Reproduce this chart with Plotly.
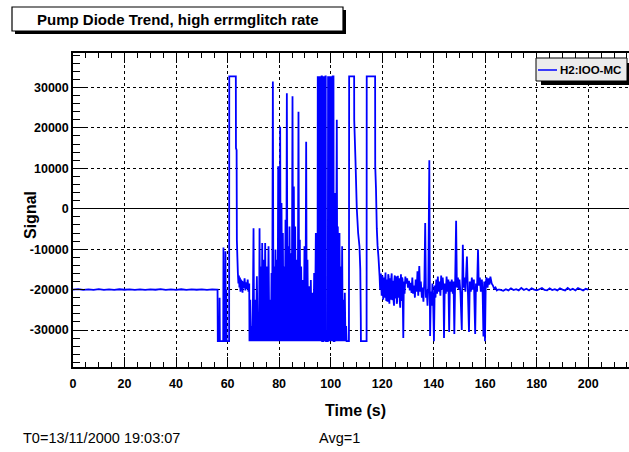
import plotly.graph_objects as go

# ---------------- data ----------------
pre_event = [
    (0, -20000), (2, -19900), (4, -20080), (6, -19950), (8, -20050), (10, -19900),
    (12, -20060), (14, -19950), (16, -20050), (18, -19920), (20, -20040), (22, -19950),
    (24, -20070), (26, -19930), (28, -20050), (30, -19950), (32, -20040), (34, -19900),
    (36, -20060), (38, -19950), (40, -20050), (42, -19920), (44, -20060), (46, -19950),
    (48, -20040), (50, -19930), (52, -20050), (54, -19950), (56.0, -20000),
]

burst = [
    (56.1, -20000), (56.2, -32768), (56.8, -32768), (56.9, -22000), (57.0, -32768),
    (58.3, -32768), (58.4, -9600), (58.6, -32768), (59.0, -32768), (59.2, -10500),
    (59.3, -32768), (59.5, -20000), (59.6, -32768), (60.6, -32768), (60.65, 32767),
    (63.2, 32767), (63.25, 15000), (63.5, 14500), (63.6, -7700), (63.8, -12000),
    (64.0, -16000), (64.2, -18500), (64.4, -16500), (64.6, -19500), (64.8, -17000),
    (65.0, -20500), (65.2, -17500), (65.4, -19000), (65.6, -17800), (65.8, -20800),
    (66.0, -18000), (66.3, -19600), (66.6, -17200), (66.9, -20200), (67.2, -18200),
    (67.5, -19800), (67.8, -17500), (68.1, -20500), (68.4, -18500), (68.5, -32768),
    (68.8, -22500), (69.1, -32768), (69.4, -29000), (69.7, -32768), (70.07, -4800),
    (70.3, -32768), (70.7, -22500), (71.0, -32768), (71.36, -16700), (71.7, -32768),
    (72.0, -29000), (72.2, -32768), (72.4, -4800), (72.65, -32768), (72.9, -14300),
    (73.2, -32768), (73.43, -8500), (73.7, -32768), (73.95, -12600), (74.3, -32768),
    (74.59, -8500), (74.9, -32768), (75.24, -14300), (75.55, -32768), (75.89, -9300),
    (76.2, -32768), (76.53, -22500), (76.8, -32768), (77.05, -15900), (77.3, -32768),
    (77.57, 31500), (77.8, -32768), (78.08, -14300), (78.35, -32768), (78.6, -10100),
    (78.85, -32768), (79.12, -12600), (79.4, -32768), (79.64, 10500), (79.8, -32768),
    (80.02, 10500), (80.2, -32768), (80.41, 20300), (80.65, -32768), (80.93, 1400),
    (81.2, -32768), (81.45, -6000), (81.7, -32768), (81.96, -14300), (82.2, -32768),
    (82.48, -2700), (82.75, -32768), (83.0, 28600), (83.25, -32768), (83.52, -9300),
    (83.8, -32768), (84.03, -4400), (84.3, -32768), (84.55, -11000), (84.9, -32768),
    (85.2, 27800), (85.45, -32768), (85.71, 5500), (86.0, -32768), (86.23, -4400),
    (86.55, -32768), (86.88, -12600), (87.2, -32768), (87.52, 24000), (87.8, -32768),
    (88.04, -7700), (88.3, -32768), (88.56, -14300), (88.9, -32768), (89.2, -17600),
    (89.5, -32768), (89.85, -9300), (90.2, -32768), (90.5, 16600), (90.75, -32768),
    (91.01, -12600), (91.3, -32768), (91.66, -19200), (92.0, -32768), (92.31, -17600),
    (92.6, -32768), (92.95, -20800), (93.3, -32768), (93.6, -15900), (93.9, -32768),
    (94.25, -6000), (94.5, -32768), (94.76, -9300), (94.9, -32768),
    (95.0, 32767), (95.12, -32768), (95.25, 32767), (95.37, -32768), (95.5, 32767),
    (95.62, -32768), (95.75, 32767), (95.87, -32768), (96.0, 32767), (96.12, -32768),
    (96.25, 32767), (96.37, -32768), (96.5, 32767), (96.6, 32767), (96.7, -32768),
    (97.2, -32768), (97.3, 32767), (97.42, -32768), (97.55, 32767), (97.67, -32768),
    (97.8, 32767), (97.92, -32768), (98.0, 32767), (98.1, 32767), (98.2, -32768),
    (98.9, -32768), (99.0, 32767), (99.12, -32768), (99.25, 32767),
    (99.37, -32768), (99.5, 32767), (99.62, -32768), (99.75, 32767), (99.87, -32768),
    (100.0, 32767), (100.12, -32768), (100.25, 32767), (100.37, -32768), (100.5, 32767),
    (100.62, -32768), (100.8, 32767), (101.1, 32767), (101.2, -32768),
    (101.5, -32768), (101.75, 3900), (102.0, -32768), (102.39, 22000), (102.6, -32768),
    (102.78, -4400), (103.1, -32768), (103.43, -6000), (103.7, -32768), (103.95, -14300),
    (104.2, -32768), (104.46, -9300), (104.7, -32768), (104.98, -22500), (105.25, -32768),
    (105.5, -20800), (105.75, -32768), (106.01, -29000), (106.2, -32768), (107.1, -32768),
    (107.18, 32767), (109.12, 32767), (109.15, 22000), (109.63, 12100), (110.15, 0),
    (110.67, -6000), (111.19, -9300), (111.5, -15000), (111.7, -27000), (111.75, -32768),
    (113.95, -32768), (114.0, 32767), (117.26, 32767), (117.3, 10500), (117.6, 5000),
    (117.91, -4800), (118.2, -9000), (118.56, -12000), (119.0, -16800),
]

recovery = [
    (119.2, -20000), (119.5, -16000), (119.8, -21500), (120.1, -16500), (120.4, -22500),
    (120.55, -18000), (120.7, -17000), (120.85, -22000), (121.0, -21000), (121.15, -17500),
    (121.3, -15800), (121.45, -21000), (121.6, -22800), (121.75, -18500), (121.9, -17500),
    (122.05, -23000), (122.2, -21500), (122.35, -16200), (122.5, -16800), (122.65, -22000),
    (122.8, -23500), (122.95, -18000), (123.1, -17200), (123.25, -22500), (123.4, -21800),
    (123.55, -17000), (123.7, -16000), (123.85, -21000), (124.0, -22600), (124.15, -18500),
    (124.3, -17800), (124.45, -23000), (124.6, -24000), (124.75, -17500), (124.9, -16500),
    (125.05, -22000), (125.2, -22000), (125.35, -16800), (125.5, -17000), (125.65, -23500),
    (125.8, -23000), (125.95, -18000), (126.1, -16600), (126.25, -22000), (126.4, -21500),
    (126.55, -17200), (126.7, -18000), (126.85, -23000), (127.0, -24500), (127.15, -18000),
    (127.3, -16200), (127.45, -22000), (127.6, -22800), (127.75, -17000), (127.9, -17500),
    (128.2, -32000), (128.4, -18000), (128.7, -21000), (129.0, -16800), (129.3, -18500),
    (129.7, -17200), (130.0, -19500), (130.4, -17800), (130.7, -20200), (131.0, -18300),
    (131.4, -20800), (131.7, -17000), (132.0, -21000), (132.4, -19000), (132.7, -22000),
    (133.0, -17500), (133.4, -20500), (133.7, -15500), (134.0, -21500), (134.4, -14200),
    (134.7, -20500), (135.0, -18000), (135.4, -22000), (135.7, -19500), (136.0, -23000),
    (136.4, -17500), (136.7, -3500), (137.0, -22000), (137.3, -20000), (137.6, -24000),
    (137.9, -19000), (138.3, 12000), (138.5, -21000), (138.6, -31500), (138.9, -20500),
    (139.2, -24000), (139.5, -18500), (139.8, -23500), (140.1, -32768), (140.4, -19000),
    (140.7, -22000), (141.0, -17500), (141.3, -21000), (141.6, -16800), (141.9, -20500),
    (142.2, -18000), (142.6, -21500), (142.9, -16500), (143.2, -20000), (143.5, -17000),
    (143.8, -19800), (144.0, -32000), (144.3, -18500), (144.7, -21000), (145.0, -16800),
    (145.4, -20500), (145.7, -17500), (146.0, -30500), (146.3, -18000), (146.7, -20500),
    (147.0, -17500), (147.4, -21000), (147.7, -18000), (148.0, -31000), (148.3, -19000),
    (148.7, -3000), (149.0, -19500), (149.4, -17000), (149.7, -20000), (150.0, -17500),
    (150.4, -21000), (150.9, -30000), (151.1, -18500), (151.3, -8900), (151.6, -19500),
    (152.0, -17000), (152.3, -20500), (152.9, -11800), (153.2, -19000), (153.7, -30500),
    (154.0, -18000), (154.4, -20500), (154.8, -17000), (155.2, -20000), (155.6, -17500),
    (156.1, -31000), (156.4, -18500), (156.8, -20500), (157.2, -10100), (157.5, -19000),
    (157.9, -17000), (158.3, -20500), (158.7, -17500), (159.0, -21000), (159.3, -31600),
    (159.6, -18000), (159.9, -32768), (160.2, -18500), (160.5, -17000), (160.9, -19500),
    (161.3, -17200), (161.6, -18800), (162.0, -16800), (162.5, -18500), (163.0, -19000),
    (163.5, -19800), (164.0, -19500), (164.5, -20200), (165.0, -20000),
]

post_event = [
    (165.7, -20000), (167, -20300), (168, -19900), (169, -20200), (170, -19700),
    (171, -20100), (172, -19900), (173, -20200), (174, -19600), (175, -20100),
    (176, -19800), (177, -20200), (178, -19700), (179, -20000), (180, -20200),
    (181, -19900), (182, -19600), (183, -20100), (184, -20200), (185, -19700),
    (186, -20100), (187, -19900), (188, -20200), (189, -19700), (190, -20000),
    (191, -20200), (192, -19600), (193, -20100), (194, -19800), (195, -20200),
    (196, -19600), (197, -19900), (198, -20200), (199, -19800), (200, -20000),
]

x_tick_vals = [0, 20, 40, 60, 80, 100, 120, 140, 160, 180, 200]
x_tick_text = ["0", "20", "40", "60", "80", "100", "120", "140", "160", "180", "200"]
y_tick_vals = [-30000, -20000, -10000, 0, 10000, 20000, 30000]
y_tick_text = ["-30000", "-20000", "-10000", "0", "10000", "20000", "30000"]

series_name = "H2:IOO-MC"
title_text = "Pump Diode Trend, high errmglitch rate"
x_title = "Time (s)"
y_title = "Signal"
footer_left = "T0=13/11/2000 19:03:07"
footer_mid = "Avg=1"

# ---------------- figure ----------------
points = pre_event + burst + recovery + post_event
t_vals = [p[0] for p in points]
s_vals = [p[1] for p in points]

W, H = 629, 452
PX_L, PX_R, PX_T, PX_B = 73, 629, 53, 367


def px(x):
    return (x - PX_L) / (PX_R - PX_L)


def py(y):
    return (PX_B - y) / (PX_B - PX_T)


FONT = "Liberation Sans, Arial, Helvetica, sans-serif"

fig = go.Figure()
fig.add_trace(go.Scatter(
    x=t_vals, y=s_vals, mode="lines", name=series_name,
    line=dict(color="#0000ff", width=1.8, simplify=False), showlegend=False,
))

axis_common = dict(
    showline=True, linecolor="black", linewidth=1.5,
    ticks="inside", tickcolor="black", tickwidth=1,
    showgrid=True, gridcolor="black", gridwidth=1, griddash="3px,3px",
    tickfont=dict(family=FONT, size=12.5, color="black", weight="bold"),
    zeroline=False,
)

fig.update_layout(
    width=W, height=H,
    margin=dict(l=PX_L, r=W - PX_R, t=PX_T, b=H - PX_B),
    paper_bgcolor="white", plot_bgcolor="white",
    xaxis=dict(
        range=[0, 215.8], tickmode="array", tickvals=x_tick_vals, ticktext=x_tick_text,
        ticklen=10, mirror="ticks", ticklabelstandoff=4,
        minor=dict(dtick=5, tick0=0, ticklen=5, ticks="inside", tickcolor="black", showgrid=False),
        **axis_common,
    ),
    yaxis=dict(
        range=[-39150, 38530], tickmode="array", tickvals=y_tick_vals, ticktext=y_tick_text,
        ticklen=12,
        minor=dict(dtick=2000, tick0=0, ticklen=7, ticks="inside", tickcolor="black", showgrid=False),
        **axis_common,
    ),
)
fig.update_yaxes(zeroline=True, zerolinecolor="black", zerolinewidth=1)

shapes = []
# title box with shadow
shapes.append(dict(type="rect", xref="paper", yref="paper", x0=px(15), x1=px(346), y0=py(34), y1=py(10),
                   fillcolor="black", line=dict(width=0), layer="above"))
shapes.append(dict(type="rect", xref="paper", yref="paper", x0=px(12), x1=px(343), y0=py(31), y1=py(7),
                   fillcolor="white", line=dict(color="black", width=1.2), layer="above"))
# legend box with shadow
shapes.append(dict(type="rect", xref="paper", yref="paper", x0=px(541), x1=px(632), y0=py(85), y1=py(63),
                   fillcolor="black", line=dict(width=0), layer="above"))
shapes.append(dict(type="rect", xref="paper", yref="paper", x0=px(536), x1=px(627), y0=py(81), y1=py(58),
                   fillcolor="#ececec", line=dict(color="black", width=1), layer="above"))
shapes.append(dict(type="line", xref="paper", yref="paper", x0=px(538), x1=px(557), y0=py(70), y1=py(70),
                   line=dict(color="#0000ff", width=1.5), layer="above"))
fig.update_layout(shapes=shapes)

ann = []
ann.append(dict(text=title_text, x=px(178), y=py(19.5), xref="paper", yref="paper", showarrow=False,
                xanchor="center", yanchor="middle",
                font=dict(family=FONT, size=15, color="black", weight="bold")))
ann.append(dict(text=series_name, x=px(558), y=py(70), xref="paper", yref="paper", showarrow=False,
                xanchor="left", yanchor="middle",
                font=dict(family=FONT, size=11.5, color="black", weight="bold")))
ann.append(dict(text=x_title, x=px(355), y=py(410), xref="paper", yref="paper", showarrow=False,
                xanchor="center", yanchor="middle",
                font=dict(family=FONT, size=16, color="black", weight="bold")))
ann.append(dict(text=y_title, x=px(30), y=py(215), xref="paper", yref="paper", showarrow=False,
                xanchor="center", yanchor="middle", textangle=-90,
                font=dict(family=FONT, size=16, color="black", weight="bold")))
ann.append(dict(text=footer_left, x=px(21), y=py(438), xref="paper", yref="paper", showarrow=False,
                xanchor="left", yanchor="middle",
                font=dict(family=FONT, size=14.5, color="black")))
ann.append(dict(text=footer_mid, x=px(317), y=py(438), xref="paper", yref="paper", showarrow=False,
                xanchor="left", yanchor="middle",
                font=dict(family=FONT, size=14.5, color="black")))
fig.update_layout(annotations=ann)

fig.write_html("out.html")
